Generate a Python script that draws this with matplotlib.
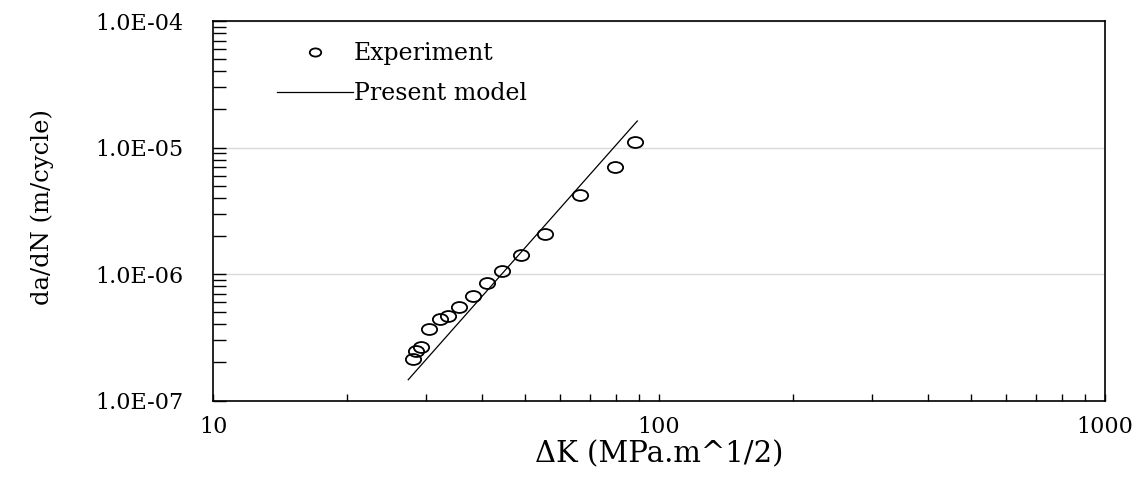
import matplotlib
matplotlib.use('Agg')
import matplotlib.pyplot as plt
import numpy as np
from matplotlib.path import Path
from matplotlib.transforms import Affine2D
from matplotlib.ticker import FuncFormatter, LogLocator, NullFormatter

# 实验数据 (ΔK, da/dN)
exp_dk = [28.1, 28.5, 29.2, 30.5, 32.3, 33.7, 35.7, 38.3, 41.1, 44.5, 49.0, 55.5, 66.5, 79.7, 88.3]
exp_dadn = [2.12e-7, 2.48e-7, 2.64e-7, 3.66e-7, 4.39e-7, 4.66e-7, 5.46e-7, 6.74e-7,
            8.45e-7, 1.05e-6, 1.41e-6, 2.06e-6, 4.2e-6, 7.03e-6, 1.107e-5]

# 模型直线 (端点)
model_dk = [27.4, 89.4]
model_dadn = [1.46e-7, 1.62e-5]

x_ticks = [10, 100, 1000]
y_ticks = [1e-7, 1e-6, 1e-5, 1e-4]

plt.rcParams['font.family'] = ['DejaVu Serif']

fig = plt.figure(figsize=(11.41, 4.79), dpi=100)
ax = fig.add_axes([213 / 1141, 1 - 400.5 / 479, 892 / 1141, 379.5 / 479])

# 横向拉伸的圆圈标记
ellipse = Path.unit_circle().transformed(Affine2D().scale(1.4, 1.0))

ax.plot(exp_dk, exp_dadn, linestyle='none', marker=ellipse, markersize=11,
        markerfacecolor='none', markeredgecolor='black', markeredgewidth=1.3,
        label='Experiment', zorder=3)
ax.plot(model_dk, model_dadn, color='black', lw=0.9, label='Present model', zorder=3)

ax.set_xscale('log')
ax.set_yscale('log')
ax.set_xlim(10, 1000)
ax.set_ylim(1e-7, 1e-4)

ax.set_xticks(x_ticks)
ax.set_yticks(y_ticks)
ax.xaxis.set_major_formatter(FuncFormatter(lambda v, p: f'{v:g}'))
ax.yaxis.set_major_formatter(FuncFormatter(lambda v, p: f'{v:.1E}'))
ax.xaxis.set_minor_locator(LogLocator(base=10, subs=np.arange(2, 10)))
ax.yaxis.set_minor_locator(LogLocator(base=10, subs=np.arange(2, 10)))
ax.xaxis.set_minor_formatter(NullFormatter())
ax.yaxis.set_minor_formatter(NullFormatter())

ax.tick_params(axis='x', which='both', direction='in', length=5, width=1,
               labelsize=16, pad=11, top=False)
ax.tick_params(axis='y', which='both', direction='in', length=9, width=1,
               labelsize=16, pad=21, right=False)

ax.yaxis.grid(True, which='major', color='#d9d9d9', lw=1)
ax.set_axisbelow(True)
for s in ax.spines.values():
    s.set_linewidth(1.2)
    s.set_color('black')

ax.set_xlabel('ΔK (MPa.m^1/2)', fontsize=21)
ax.xaxis.set_label_coords(0.5, -0.105)
ax.set_ylabel('da/dN (m/cycle)', fontsize=17.5)
ax.yaxis.set_label_coords(-0.178, 0.51)

leg = ax.legend(loc='upper left', bbox_to_anchor=(0.0717, 0.945), frameon=False,
                fontsize=17, handlelength=3.2, handletextpad=0.05, labelspacing=0.72,
                borderpad=0, borderaxespad=0, markerscale=0.75)

fig.savefig('out.png', dpi=100, facecolor='white')
plt.close(fig)
